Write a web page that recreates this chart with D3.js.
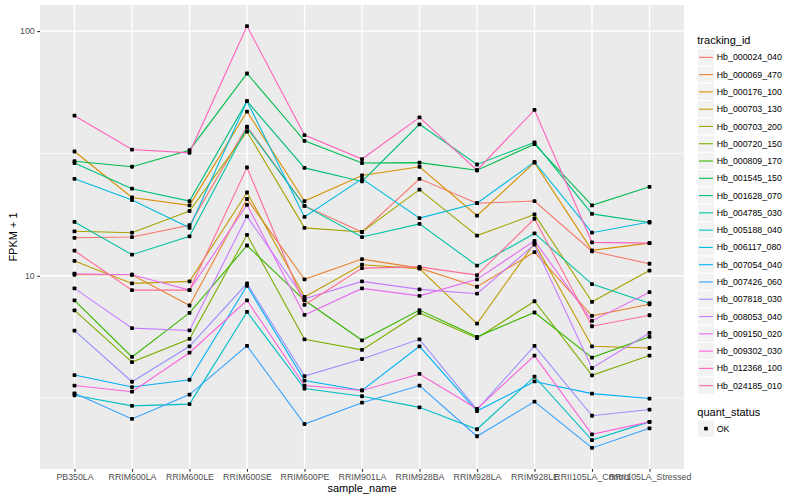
<!DOCTYPE html>
<html>
<head>
<meta charset="utf-8">
<script src="https://cdn.jsdelivr.net/npm/d3@7"></script>
<style>
    body { margin: 0; background: #ffffff; }
    svg text { font-family: "Liberation Sans", Arial, Helvetica, sans-serif; }
</style>
</head>
<body>
<div id="chart"></div>
<script>

const width = 800
const height = 500
const panel = { left: 40, right: 684, top: 5, bottom: 469 }
const point_size = 3.8

// samples on the x axis
const samples = ['PB350LA', 'RRIM600LA', 'RRIM600LE', 'RRIM600SE', 'RRIM600PE', 'RRIM901LA',
                 'RRIM928BA', 'RRIM928LA', 'RRIM928LE', 'RRII105LA_Control', 'RRII105LA_Stressed']

// FPKM + 1 per gene, one value per sample
const hb_000024_040 = [14.3, 14.4, 16.1, 40.7, 19.3, 15.1, 24.9, 19.8, 20.2, 12.6, 11.2]
const hb_000069_470 = [10.1, 10.1, 7.56, 20.6, 9.67, 11.7, 10.75, 9.02, 12.5, 6.86, 7.65]
const hb_000176_100 = [32.2, 20.9, 19.4, 46.9, 20.2, 25.7, 27.9, 17.6, 29.0, 12.7, 13.6]
const hb_000703_130 = [11.5, 9.31, 9.49, 21.9, 8.2, 11.1, 10.7, 6.38, 13.6, 5.15, 5.07]
const hb_000703_200 = [15.2, 15.0, 18.4, 38.8, 15.7, 15.1, 22.5, 14.6, 17.8, 7.83, 10.5]
const hb_000720_150 = [7.22, 4.44, 5.52, 14.7, 5.5, 4.98, 7.05, 5.56, 7.87, 3.92, 4.72]
const hb_000809_170 = [7.94, 4.66, 7.05, 13.3, 7.94, 5.45, 7.24, 5.63, 7.08, 4.63, 5.63]
const hb_001545_150 = [29.4, 27.9, 32.6, 67.1, 35.6, 28.9, 29.0, 27.0, 34.5, 19.4, 23.1]
const hb_001628_070 = [28.9, 22.7, 20.2, 51.7, 27.6, 24.3, 41.6, 28.5, 35.1, 17.9, 16.5]
const hb_004785_030 = [16.6, 12.2, 14.5, 40.3, 19.3, 14.4, 16.3, 11.0, 14.9, 9.25, 7.73]
const hb_005188_040 = [3.25, 2.94, 2.99, 7.12, 3.46, 3.22, 2.9, 2.36, 3.87, 2.13, 2.53]
const hb_006117_080 = [24.9, 20.4, 15.7, 51.7, 17.4, 24.9, 17.2, 19.8, 29.2, 15.0, 16.6]
const hb_007054_040 = [3.93, 3.51, 3.76, 9.1, 3.73, 3.4, 5.15, 2.8, 3.7, 3.3, 3.15]
const hb_007426_060 = [3.31, 2.6, 3.27, 5.17, 2.48, 3.03, 3.56, 2.21, 3.06, 1.98, 2.38]
const hb_007818_030 = [5.97, 3.69, 5.15, 9.3, 3.89, 4.57, 5.5, 2.84, 5.17, 2.68, 2.84]
const hb_008053_040 = [8.88, 6.11, 5.98, 17.5, 8.05, 9.49, 8.8, 8.45, 13.4, 4.2, 5.84]
const hb_009150_020 = [10.2, 10.1, 8.74, 19.5, 6.92, 8.88, 8.28, 9.67, 13.9, 6.54, 8.57]
const hb_009302_030 = [3.56, 3.36, 4.85, 7.94, 3.56, 3.4, 3.97, 2.86, 4.72, 2.25, 2.53]
const hb_012368_100 = [45.1, 32.8, 31.8, 104.8, 37.6, 30.0, 44.4, 27.0, 47.6, 13.7, 13.6]
const hb_024185_010 = [12.66, 8.74, 8.74, 27.7, 7.6, 10.75, 10.87, 10.07, 17.1, 6.22, 6.9]

const tracking_ids = ['Hb_000024_040', 'Hb_000069_470', 'Hb_000176_100', 'Hb_000703_130', 'Hb_000703_200',
                      'Hb_000720_150', 'Hb_000809_170', 'Hb_001545_150', 'Hb_001628_070', 'Hb_004785_030',
                      'Hb_005188_040', 'Hb_006117_080', 'Hb_007054_040', 'Hb_007426_060', 'Hb_007818_030',
                      'Hb_008053_040', 'Hb_009150_020', 'Hb_009302_030', 'Hb_012368_100', 'Hb_024185_010']
const values_by_id = [hb_000024_040, hb_000069_470, hb_000176_100, hb_000703_130, hb_000703_200,
                      hb_000720_150, hb_000809_170, hb_001545_150, hb_001628_070, hb_004785_030,
                      hb_005188_040, hb_006117_080, hb_007054_040, hb_007426_060, hb_007818_030,
                      hb_008053_040, hb_009150_020, hb_009302_030, hb_012368_100, hb_024185_010]

const y_ticks = [10, 100]
const y_minor = [Math.pow(10, 0.5), Math.pow(10, 1.5)]
const quant_status = ['OK']

// ggplot hue palette, 20 levels
const colors = ['#F8766D', '#EA8331', '#D89000', '#C09B00', '#A3A500', '#7CAE00', '#39B600', '#00BB4E',
                '#00BF7D', '#00C1A3', '#00BFC4', '#00BAE0', '#00B0F6', '#35A2FF', '#9590FF', '#C77CFF',
                '#E76BF3', '#FA62DB', '#FF62BC', '#FF6C91']

const series = tracking_ids.map((id, i) => ({
    id: id,
    color: colors[i],
    points: samples.map((s, j) => ({ sample: s, value: values_by_id[i][j] }))
}))

const svg = d3.select('#chart')
    .append('svg')
    .attr('width', width)
    .attr('height', height)

svg.append('rect').attr('width', width).attr('height', height).attr('fill', '#ffffff')

// scales
const x = d3.scalePoint()
    .domain(samples)
    .range([panel.left, panel.right])
    .padding(0.6)

const log_ext = d3.extent(values_by_id.flat(), v => Math.log10(v))
const log_pad = (log_ext[1] - log_ext[0]) * 0.05
const y = d3.scaleLog()
    .domain([Math.pow(10, log_ext[0] - log_pad), Math.pow(10, log_ext[1] + log_pad)])
    .range([panel.bottom, panel.top])

// panel background + grid
svg.append('rect')
    .attr('x', panel.left)
    .attr('y', panel.top)
    .attr('width', panel.right - panel.left)
    .attr('height', panel.bottom - panel.top)
    .attr('fill', '#EBEBEB')

const grid = svg.append('g')
grid.selectAll('.minor')
    .data(y_minor)
    .enter()
    .append('line')
    .attr('x1', panel.left).attr('x2', panel.right)
    .attr('y1', d => y(d)).attr('y2', d => y(d))
    .attr('stroke', '#ffffff')
    .attr('stroke-width', 0.7)
grid.selectAll('.major_y')
    .data(y_ticks)
    .enter()
    .append('line')
    .attr('x1', panel.left).attr('x2', panel.right)
    .attr('y1', d => y(d)).attr('y2', d => y(d))
    .attr('stroke', '#ffffff')
    .attr('stroke-width', 1.4)
grid.selectAll('.major_x')
    .data(samples)
    .enter()
    .append('line')
    .attr('x1', d => x(d)).attr('x2', d => x(d))
    .attr('y1', panel.top).attr('y2', panel.bottom)
    .attr('stroke', '#ffffff')
    .attr('stroke-width', 1.4)

// lines
const line_generator = d3.line()
    .x(d => x(d.sample))
    .y(d => y(d.value))

svg.append('g')
    .selectAll('path')
    .data(series)
    .enter()
    .append('path')
    .attr('d', d => line_generator(d.points))
    .attr('fill', 'none')
    .attr('stroke', d => d.color)
    .attr('stroke-width', 1.1)

// points (small, square-ish like the reference)
svg.append('g')
    .selectAll('rect')
    .data(series.flatMap(d => d.points))
    .enter()
    .append('rect')
    .attr('x', d => x(d.sample) - point_size / 2)
    .attr('y', d => y(d.value) - point_size / 2)
    .attr('width', point_size)
    .attr('height', point_size)
    .attr('rx', 0.8)
    .attr('fill', '#000000')

// axes
const x_axis = svg.append('g')
    .attr('transform', `translate(0,${panel.bottom})`)
    .call(d3.axisBottom(x).tickSize(2.75).tickPadding(2.5))
const y_axis = svg.append('g')
    .attr('transform', `translate(${panel.left},0)`)
    .call(d3.axisLeft(y).tickValues(y_ticks).tickFormat(d3.format('d')).tickSize(2.75).tickPadding(2.5))

for (const ax of [x_axis, y_axis]) {
    ax.select('.domain').remove()
    ax.selectAll('.tick line').attr('stroke', '#333333').attr('stroke-width', 1.1)
    ax.selectAll('.tick text')
        .attr('fill', '#4D4D4D')
        .style('font-size', '8.8px')
        .style('font-family', '"Liberation Sans", Arial, Helvetica, sans-serif')
}

svg.append('text')
    .attr('x', (panel.left + panel.right) / 2)
    .attr('y', 492)
    .attr('text-anchor', 'middle')
    .style('font-size', '11px')
    .text('sample_name')

svg.append('text')
    .attr('transform', `translate(16.5,${(panel.top + panel.bottom) / 2}) rotate(-90)`)
    .attr('text-anchor', 'middle')
    .style('font-size', '11px')
    .text('FPKM + 1')

// legend: tracking_id
const key_size = 17.28
const legend_x = 697.3
const legend = svg.append('g')

legend.append('text')
    .attr('x', legend_x)
    .attr('y', 44)
    .style('font-size', '11px')
    .text('tracking_id')

const keys = legend.selectAll('.key')
    .data(series)
    .enter()
    .append('g')
    .attr('transform', (d, i) => `translate(${legend_x},${48.7 + i * key_size})`)

keys.append('rect')
    .attr('width', key_size)
    .attr('height', key_size)
    .attr('fill', '#F2F2F2')
    .attr('stroke', '#ffffff')
    .attr('stroke-width', 1)
keys.append('line')
    .attr('x1', 1.7).attr('x2', key_size - 1.7)
    .attr('y1', key_size / 2).attr('y2', key_size / 2)
    .attr('stroke', d => d.color)
    .attr('stroke-width', 1.1)
keys.append('text')
    .attr('x', key_size + 2.2)
    .attr('y', key_size / 2)
    .attr('dy', '0.35em')
    .style('font-size', '8.8px')
    .text(d => d.id)

// legend: quant_status
legend.append('text')
    .attr('x', legend_x)
    .attr('y', 415.5)
    .style('font-size', '11px')
    .text('quant_status')

const status_keys = legend.selectAll('.status')
    .data(quant_status)
    .enter()
    .append('g')
    .attr('transform', (d, i) => `translate(${legend_x},${420 + i * key_size})`)

status_keys.append('rect')
    .attr('width', key_size)
    .attr('height', key_size)
    .attr('fill', '#F2F2F2')
    .attr('stroke', '#ffffff')
status_keys.append('rect')
    .attr('x', key_size / 2 - point_size / 2)
    .attr('y', key_size / 2 - point_size / 2)
    .attr('width', point_size)
    .attr('height', point_size)
    .attr('rx', 0.8)
    .attr('fill', '#000000')
status_keys.append('text')
    .attr('x', key_size + 2.2)
    .attr('y', key_size / 2)
    .attr('dy', '0.35em')
    .style('font-size', '8.8px')
    .text(d => d)

</script>
</body>
</html>
